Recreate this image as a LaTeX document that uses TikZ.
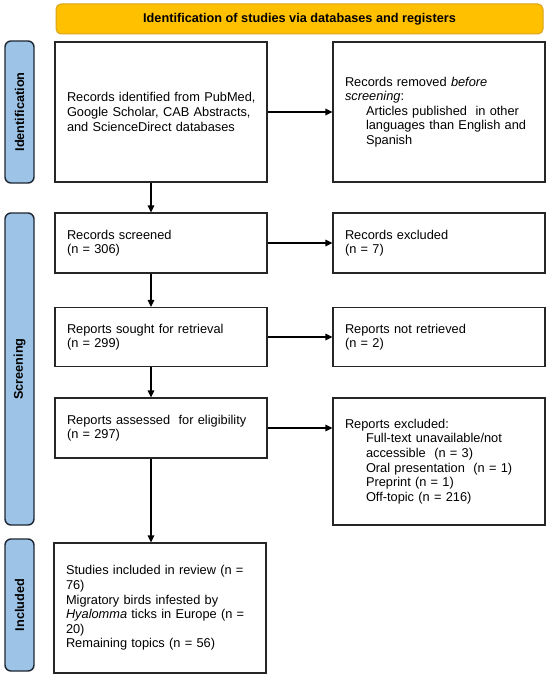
\documentclass[tikz,border=0pt]{standalone}
\usepackage{fontspec}
\setmainfont{Liberation Sans}
\usetikzlibrary{arrows.meta}
\definecolor{bannerfill}{HTML}{FFC000}
\definecolor{bannerdraw}{HTML}{D9A21B}
\definecolor{sidefill}{HTML}{9DC3E6}
\definecolor{sidedraw}{HTML}{1E2733}
\definecolor{boxdraw}{HTML}{262626}
\tikzset{
  txt/.style={font=\fontsize{12.8}{14.6}\selectfont},
  flowbox/.style={txt, draw=boxdraw, line width=1.1pt, fill=white, rectangle,
    inner xsep=12pt, inner ysep=0pt, align=left, text width=188pt,
    minimum width=212pt, anchor=center},
  banner/.style={draw=bannerdraw, fill=bannerfill, line width=1pt, rounded corners=5pt,
    minimum width=487pt, minimum height=30pt, inner sep=0pt,
    font=\fontsize{12.7}{14.6}\selectfont\bfseries},
  sidelabel/.style={draw=sidedraw, fill=sidefill, line width=1.4pt, rounded corners=6pt,
    minimum height=29pt, inner sep=0pt, rotate=90,
    font=\fontsize{12.7}{14.6}\selectfont\bfseries},
  arr/.style={draw=black, line width=1.1pt, -{Triangle[length=7pt,width=6.5pt]}}
}
\begin{document}
\begin{tikzpicture}[x=1pt,y=-1pt]
\useasboundingbox (0,0) rectangle (550,677);
\fill[white] (0,0) rectangle (550,677);

% banner
\node[banner] (ban) at (299.5,19) {Identification of studies via databases and registers};

% side labels
\node[sidelabel, minimum width=142pt] (sidA) at (19.5,112) {Identification};
\node[sidelabel, minimum width=312pt] (sidB) at (19.5,369) {Screening};
\node[sidelabel, minimum width=132pt] (sidC) at (19.5,605) {Included};

% left column
\node[flowbox, minimum height=140pt] (b1) at (161,112)
  {\mbox{Records identified from PubMed,}\\ \mbox{Google Scholar, CAB Abstracts,}\\ \mbox{and ScienceDirect databases}};
\node[flowbox, minimum height=60pt] (b2) at (161,243)
  {Records screened\\ (n = 306)};
\node[flowbox, minimum height=59pt] (b3) at (161,337)
  {Reports sought for retrieval\\ (n = 299)};
\node[flowbox, minimum height=60pt] (b4) at (161,428)
  {Reports assessed\ \ for eligibility\\ (n = 297)};
\node[flowbox, minimum height=130pt] (b5) at (160,608)
  {\mbox{Studies included in review (n =}\\ 76)\\ Migratory birds infested by\\ \mbox{\textit{Hyalomma} ticks in Europe (n =}\\ 20)\\ Remaining topics (n = 56)};

% right column
\node[flowbox, minimum height=140pt] (r1) at (439,112)
  {Records removed \textit{before}\\ \textit{screening}:\\
   \hspace*{21pt}\mbox{Articles published\ \ in other}\\
   \hspace*{21pt}\mbox{languages than English and}\\
   \hspace*{21pt}Spanish};
\node[flowbox, minimum height=60pt] (r2) at (439,243)
  {Records excluded\\ (n = 7)};
\node[flowbox, minimum height=59pt] (r3) at (439,337)
  {Reports not retrieved\\ (n = 2)};
\node[flowbox, minimum height=127pt] (r4) at (439,461.5)
  {Reports excluded:\\
   \hspace*{21pt}\mbox{Full-text unavailable/not}\\
   \hspace*{21pt}accessible\ \ (n = 3)\\
   \hspace*{21pt}\mbox{Oral presentation\ \ (n = 1)}\\
   \hspace*{21pt}Preprint (n = 1)\\
   \hspace*{21pt}Off-topic (n = 216)};

% vertical connectors
\coordinate (ax) at (151,0);
\draw[arr] (b1.south -| ax) -- (b2.north -| ax);
\draw[arr] (b2.south -| ax) -- (b3.north -| ax);
\draw[arr] (b3.south -| ax) -- (b4.north -| ax);
\draw[arr] (b4.south -| ax) -- (b5.north -| ax);

% horizontal connectors
\draw[arr] (b1.east) -- (r1.west);
\draw[arr] (b2.east) -- (r2.west);
\draw[arr] (b3.east) -- (r3.west);
\draw[arr] (b4.east) -- (b4.east -| r4.west);
\end{tikzpicture}
\end{document}
